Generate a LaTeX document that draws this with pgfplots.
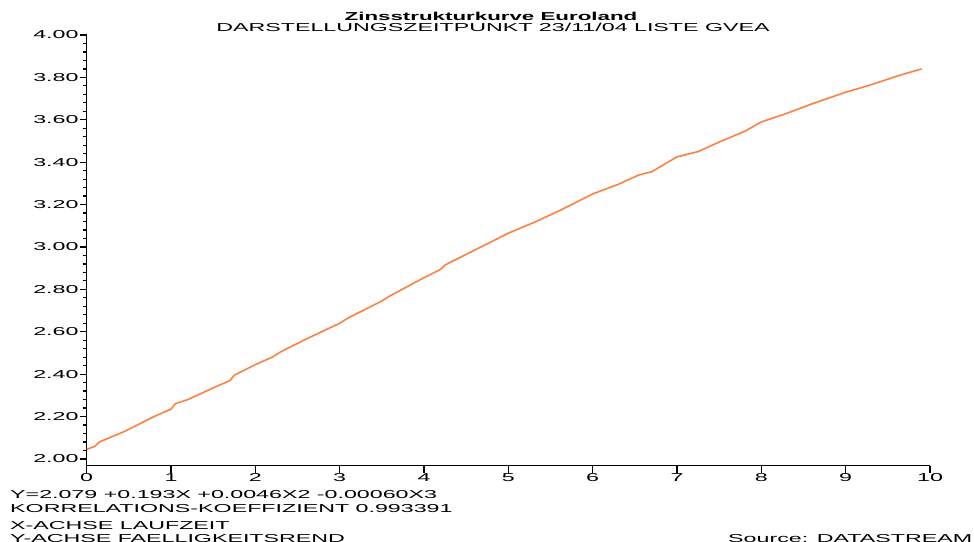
\documentclass[border=0pt]{standalone}
\usepackage{fontspec}
\setmainfont[FakeStretch=2.02, BoldFeatures={FakeStretch=1.94}]{Liberation Sans}
\usepackage{pgfplots}
\pgfplotsset{compat=1.18}
\definecolor{curve}{RGB}{255,128,64}
\begin{document}
\fontsize{11.5}{13}\selectfont
\begin{tikzpicture}
\begin{axis}[
  at={(86.7pt,75.3pt)}, anchor=south west,
  scale only axis, width=843.3pt, height=430.7pt,
  xmin=0, xmax=10, ymin=1.968, ymax=4.0,
  axis lines=left,
  axis line style={-, line width=1.5pt, black},
  xtick={0,1,2,3,4,5,6,7,8,9,10},
  ytick={2.0,2.2,2.4,2.6,2.8,3.0,3.2,3.4,3.6,3.8,4.0},
  minor y tick num=4,
  tick align=outside,
  major tick length=7pt, minor tick length=4pt,
  tick style={black, line width=1.2pt},
  tick label style={font=\fontsize{11.5}{13}\selectfont, inner sep=1pt},
  /pgf/number format/assume math mode=true,
  yticklabel style={/pgf/number format/fixed, /pgf/number format/fixed zerofill, /pgf/number format/precision=2},
  clip=false,
]
\addplot[curve, line width=1.6pt] coordinates {
(0.00,2.045) (0.10,2.060) (0.15,2.080) (0.30,2.105) (0.45,2.130) (0.60,2.160)
(0.80,2.200) (1.00,2.235) (1.05,2.260) (1.20,2.280) (1.50,2.335) (1.70,2.370)
(1.75,2.395) (2.00,2.445) (2.20,2.480) (2.30,2.505) (2.60,2.565) (3.00,2.640)
(3.10,2.665) (3.50,2.745) (3.60,2.770) (4.00,2.855) (4.20,2.895) (4.25,2.915)
(4.60,2.985) (5.00,3.065) (5.30,3.115) (5.60,3.170) (6.00,3.250) (6.30,3.295)
(6.55,3.340) (6.70,3.355) (7.00,3.425) (7.25,3.450) (7.50,3.495) (7.80,3.545)
(8.00,3.590) (8.30,3.630) (8.60,3.675) (9.00,3.730) (9.30,3.765) (9.60,3.805)
(9.90,3.840)
};
\end{axis}
\node[anchor=base, font=\bfseries\fontsize{11.5}{13}\selectfont] at (491pt,520pt) {Zinsstrukturkurve Euroland};
\node[anchor=base, inner sep=0pt] at (493pt,509pt) {DARSTELLUNGSZEITPUNKT 23/11/04 LISTE GVEA};
\node[anchor=base west, inner sep=0pt] at (10pt,43pt) {Y=2.079 +0.193X +0.0046X2 -0.00060X3};
\node[anchor=base west, inner sep=0pt] at (10pt,29pt) {KORRELATIONS-KOEFFIZIENT 0.993391};
\node[anchor=base west, inner sep=0pt] at (10pt,12pt) {X-ACHSE LAUFZEIT};
\node[anchor=base west, inner sep=0pt] at (10pt,-1pt) {Y-ACHSE FAELLIGKEITSREND};
\node[anchor=base west, inner sep=0pt] at (728pt,-1pt) {Source: DATASTREAM};
\pgfresetboundingbox
\useasboundingbox (0pt,0pt) rectangle (974pt,541pt);
\end{tikzpicture}
\end{document}
